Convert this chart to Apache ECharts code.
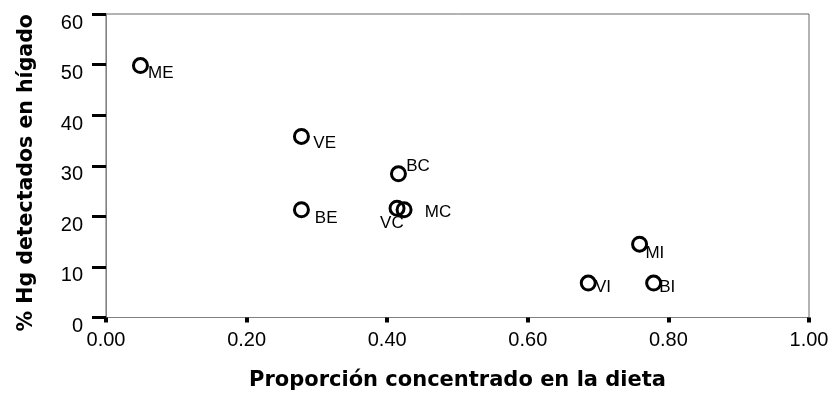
<!DOCTYPE html>
<html>
<head>
<meta charset="utf-8">
<script src="https://cdn.jsdelivr.net/npm/echarts@6/dist/echarts.min.js"></script>
<style>html,body{margin:0;padding:0;background:#fff;}#c{width:833px;height:396px;}</style>
</head>
<body>
<div id="c"></div>
<script>
// Data
var codes = ['ME', 'VE', 'BC', 'BE', 'VC', 'MC', 'MI', 'VI', 'BI'];
var proporcion = [0.049, 0.278, 0.416, 0.278, 0.414, 0.424, 0.759, 0.686, 0.779];
var hgHigado = [49.8, 35.8, 28.4, 21.3, 21.6, 21.3, 14.5, 6.8, 6.8];
var xTicks = [0, 0.2, 0.4, 0.6, 0.8, 1.0];
var yTicks = [0, 10, 20, 30, 40, 50, 60];
var xTitle = 'Proporción concentrado en la dieta';
var yTitle = '% Hg detectados en hígado';

// label placement (style only)
var labelPlace = {
  ME: [7.6, -1.1], VE: [11.9, -1.9], BC: [7.7, -15.9], BE: [13.4, -0.1], VC: [-17, 6.4],
  MC: [20.7, -6.1], MI: [5.8, 0.6], VI: [6.7, -4.4], BI: [5.5, -4.4]
};

var FONT = 'Liberation Sans, Arial, sans-serif';
var TFONT = 'DejaVu Sans, sans-serif';
var chart = echarts.init(document.getElementById('c'), null, {renderer: 'canvas'});
var data = codes.map(function (c, i) {
  return {
    name: c,
    value: [proporcion[i], hgHigado[i]],
    label: {offset: labelPlace[c]}
  };
});
chart.setOption({
  animation: false,
  backgroundColor: '#fff',
  grid: {left: 106, right: 24, top: 14, bottom: 78.5, containLabel: false, outerBoundsMode: 'none',
    show: true, borderColor: '#666', borderWidth: 1, backgroundColor: 'transparent'},
  xAxis: {
    type: 'value', min: xTicks[0], max: xTicks[xTicks.length - 1], interval: 0.2,
    name: xTitle, nameLocation: 'middle', nameGap: 53,
    nameTextStyle: {fontFamily: TFONT, fontSize: 21, lineHeight: 21, fontWeight: 'bold', color: '#000'},
    axisLine: {show: true, lineStyle: {color: '#808080', width: 1}},
    axisTick: {show: true, inside: false, length: 5, lineStyle: {color: '#000', width: 4}},
    axisLabel: {margin: 13, fontFamily: FONT, fontSize: 20, lineHeight: 20, color: '#000', formatter: function (v) { return v.toFixed(2); }},
    splitLine: {show: false}
  },
  yAxis: {
    type: 'value', min: yTicks[0], max: yTicks[yTicks.length - 1], interval: 10,
    name: yTitle, nameLocation: 'middle', nameGap: 69, nameRotate: 90,
    nameTextStyle: {fontFamily: TFONT, fontSize: 20.5, lineHeight: 21, fontWeight: 'bold', color: '#000', padding: [0, 14, 0, 0]},
    axisLine: {show: true, lineStyle: {color: '#808080', width: 1}},
    axisTick: {show: true, inside: false, length: 14, lineStyle: {color: '#000', width: 3}},
    axisLabel: {margin: 23, fontFamily: FONT, fontSize: 20, color: '#000', verticalAlign: 'top', lineHeight: 18},
    splitLine: {show: false}
  },
  series: [{
    type: 'scatter',
    symbol: 'circle',
    symbolSize: 14,
    itemStyle: {color: 'rgba(0,0,0,0)', borderColor: '#000', borderWidth: 3, opacity: 1},
    label: {
      show: true, formatter: '{b}', position: 'inside', align: 'left', verticalAlign: 'top',
      fontFamily: FONT, fontSize: 17, lineHeight: 17, color: '#000'
    },
    emphasis: {disabled: true},
    data: data
  }]
});
</script>
</body>
</html>
